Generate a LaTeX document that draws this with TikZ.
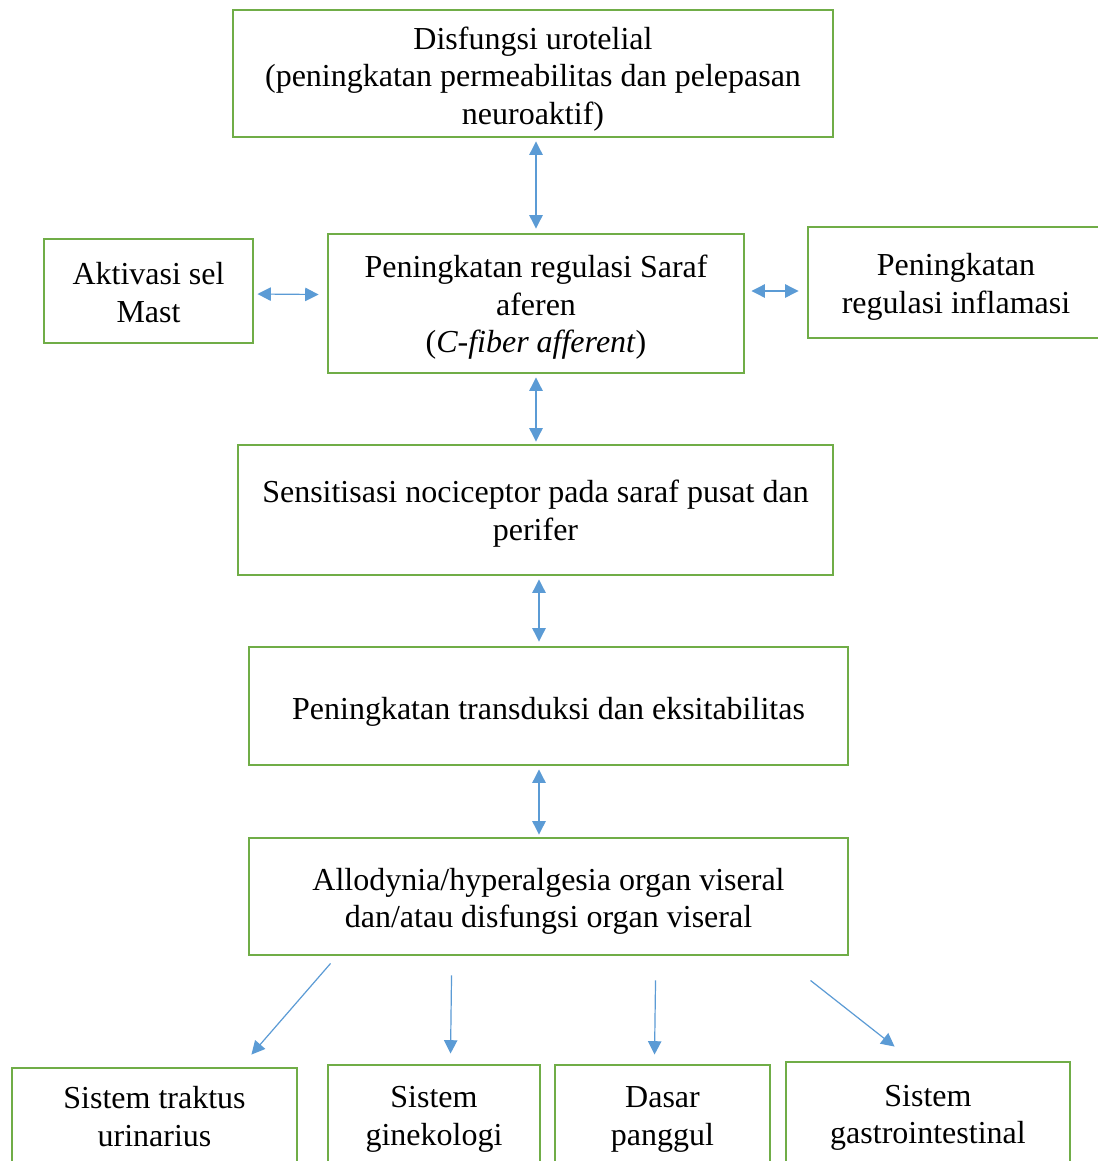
\documentclass[tikz,border=0pt]{standalone}
\usepackage{fontspec}
\setmainfont{Liberation Serif}
\usetikzlibrary{arrows.meta,calc}
\definecolor{boxgreen}{HTML}{70AD47}
\definecolor{arrblue}{HTML}{5B9BD5}
\begin{document}
\begin{tikzpicture}[x=0.75pt,y=-0.75pt,
  box/.style={draw=boxgreen, line width=2.2pt, inner sep=0pt},
  txt/.style={align=center, font=\fontsize{24}{28.2}\selectfont, inner sep=0pt},
  conn/.style={draw=arrblue, line width=0.9pt, {Triangle[length=10pt,width=10pt]}-{Triangle[length=10pt,width=10pt]}},
  oneway/.style={draw=arrblue, line width=0.9pt, -{Triangle[length=10pt,width=10pt]}}]
\useasboundingbox (0,0) rectangle (1098,1161);
\clip (0,0) rectangle (1098,1161);
\fill[white] (0,0) rectangle (1098,1161);

% boxes
\node[box, minimum width=450pt, minimum height=95.25pt] (top) at (533,73.5) {};
\node[box, minimum width=312pt, minimum height=104.25pt] (mid) at (536,303.5) {};
\node[box, minimum width=156.75pt, minimum height=78pt] (left) at (148.5,291) {};
\node[box, minimum width=222pt, minimum height=83.25pt] (right) at (956,282.5) {};
\node[box, minimum width=446.25pt, minimum height=97.5pt] (sens) at (535.5,510) {};
\node[box, minimum width=449.25pt, minimum height=88.5pt] (trans) at (548.5,706) {};
\node[box, minimum width=449.25pt, minimum height=87.75pt] (allo) at (548.5,896.5) {};
\node[box, minimum width=213.75pt, minimum height=72pt] (b1) at (154.5,1116) {};
\node[box, minimum width=159pt, minimum height=75.75pt] (b2) at (434,1115.5) {};
\node[box, minimum width=161.25pt, minimum height=75.75pt] (b3) at (662.5,1115.5) {};
\node[box, minimum width=213pt, minimum height=78pt] (b4) at (928,1114) {};

% texts
\node[txt] (topt) at ($(top.center)+(0,5.5)$)
  {Disfungsi urotelial\\(peningkatan permeabilitas dan pelepasan\\neuroaktif)};
\node[txt] (midt) at ($(mid.center)+(0,4)$)
  {Peningkatan regulasi Saraf\\aferen\\(\textit{C-fiber afferent})};
\node[txt] (leftt) at ($(left.center)+(0,1.5)$) {Aktivasi sel\\Mast};
\node[txt] (rightt) at ($(right.center)+(0,4.5)$) {Peningkatan\\regulasi inflamasi};
\node[txt] (senst) at ($(sens.center)+(0,3.5)$)
  {Sensitisasi nociceptor pada saraf pusat dan\\perifer};
\node[txt] (transt) at ($(trans.center)+(0,6)$) {Peningkatan transduksi dan eksitabilitas};
\node[txt] (allot) at ($(allo.center)+(0,5)$)
  {Allodynia/hyperalgesia organ viseral\\dan/atau disfungsi organ viseral};
\node[txt] (b1t) at ($(b1.center)+(0,0.5)$) {Sistem traktus\\urinarius};
\node[txt] (b2t) at ($(b2.center)+(0,4)$) {Sistem\\ginekologi};
\node[txt] (b3t) at ($(b3.center)+(0,4)$) {Dasar\\panggul};
\node[txt] (b4t) at ($(b4.center)+(0,4)$) {Sistem\\gastrointestinal};

% connectors
\draw[conn] ($(top.south)+(3,3)$) -- ($(mid.north)+(0,-4)$);
\draw[conn] ($(left.east)+(3,3)$) -- ($(mid.west)+(-8,-9)$);
\draw[conn] ($(mid.east)+(6,-12.5)$) -- ($(right.west)+(-8,8.5)$);
\draw[conn] ($(mid.south)+(0,3)$) -- ($(sens.north)+(0.5,-2)$);
\draw[conn] ($(sens.south)+(3.5,3)$) -- ($(trans.north)+(-9.5,-4)$);
\draw[conn] ($(trans.south)+(-9.5,3)$) -- ($(allo.north)+(-9.5,-2)$);

\draw[oneway] ($(allo.south west)+(83,7)$) -- ($(b1.north east)+(-47,-12)$);
\draw[oneway] ($(allo.south west)+(204,19)$) -- ($(b2.north west)+(124,-10)$);
\draw[oneway] ($(allo.south west)+(408,24)$) -- ($(b3.north west)+(101,-9)$);
\draw[oneway] ($(allo.south west)+(563,24)$) -- ($(b4.north west)+(110,-14)$);
\end{tikzpicture}
\end{document}
